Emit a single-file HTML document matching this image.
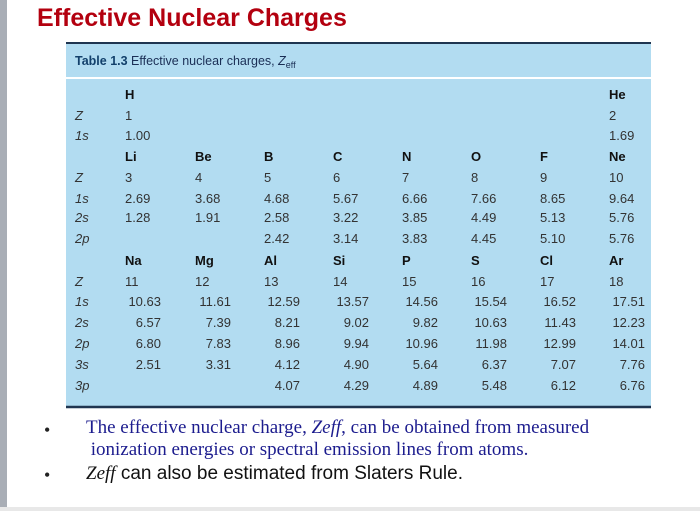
<!DOCTYPE html>
<html><head><meta charset="utf-8"><style>
body{margin:0;width:700px;height:511px;background:#fff;overflow:hidden;position:relative;font-family:"Liberation Sans",sans-serif}
</style></head><body>
<div style="position:absolute;left:0;top:0;width:7px;height:511px;background:#a9aeb6"></div>
<div style="position:absolute;left:0;top:507px;width:700px;height:4px;background:#e8e8e8"></div>
<div style="position:absolute;left:37px;top:4px;font-size:25px;font-weight:bold;color:#b3000f">Effective Nuclear Charges</div>
<svg style="position:absolute;left:0;top:0" width="700" height="511" font-family="Liberation Sans, sans-serif" font-size="13" fill="#333">
<rect x="66" y="43" width="585" height="34" fill="#b2dcf1"/>
<rect x="66" y="79" width="585" height="328" fill="#b2dcf1"/>
<line x1="66" y1="43" x2="651" y2="43" stroke="#1f3550" stroke-width="2"/>
<line x1="66" y1="407" x2="651" y2="407" stroke="#1f3550" stroke-width="2.5"/>
<text x="75" y="65" font-size="12.5" fill="#1a2e55"><tspan font-weight="bold" fill="#12406b">Table 1.3</tspan> Effective nuclear charges, <tspan font-style="italic">Z</tspan><tspan font-size="9" dy="3">eff</tspan></text>
<g id="cells"></g>
</svg>
<div style="position:absolute;left:44px;top:420px;font-size:18px;font-family:'Liberation Serif',serif;color:#222">•</div>
<div style="position:absolute;left:86px;top:417px;width:560px;font-size:19px;line-height:22px;font-family:'Liberation Serif',serif;color:#1c1c8e">The effective nuclear charge, <i>Zeff</i>, can be obtained from measured<br>&nbsp;ionization energies or spectral emission lines from atoms.</div>
<div style="position:absolute;left:44px;top:465px;font-size:18px;font-family:'Liberation Serif',serif;color:#222">•</div>
<div style="position:absolute;left:86px;top:463px;font-size:19px;color:#111"><i style="font-family:'Liberation Serif',serif">Zeff</i> can also be estimated from Slaters Rule.</div>
<script>
const rows = [
 {y:99, lab:"", b:1, v:["H","","","","","","","He"]},
 {y:120, lab:"Z", v:["1","","","","","","","2"]},
 {y:140, lab:"1s", v:["1.00","","","","","","","1.69"]},
 {y:161, lab:"", b:1, v:["Li","Be","B","C","N","O","F","Ne"]},
 {y:182, lab:"Z", v:["3","4","5","6","7","8","9","10"]},
 {y:203, lab:"1s", v:["2.69","3.68","4.68","5.67","6.66","7.66","8.65","9.64"]},
 {y:222, lab:"2s", v:["1.28","1.91","2.58","3.22","3.85","4.49","5.13","5.76"]},
 {y:243, lab:"2p", v:["","","2.42","3.14","3.83","4.45","5.10","5.76"]},
 {y:265, lab:"", b:1, v:["Na","Mg","Al","Si","P","S","Cl","Ar"]},
 {y:286, lab:"Z", v:["11","12","13","14","15","16","17","18"]},
 {y:306, lab:"1s", r:1, v:["10.63","11.61","12.59","13.57","14.56","15.54","16.52","17.51"]},
 {y:327, lab:"2s", r:1, v:["6.57","7.39","8.21","9.02","9.82","10.63","11.43","12.23"]},
 {y:348, lab:"2p", r:1, v:["6.80","7.83","8.96","9.94","10.96","11.98","12.99","14.01"]},
 {y:369, lab:"3s", r:1, v:["2.51","3.31","4.12","4.90","5.64","6.37","7.07","7.76"]},
 {y:390, lab:"3p", r:1, v:["","","4.07","4.29","4.89","5.48","6.12","6.76"]}
];
const cols=[125,195,264,333,402,471,540,609];
const g=document.getElementById('cells');
const NS="http://www.w3.org/2000/svg";
rows.forEach((r,i)=>{
  if(r.lab){
    const t=document.createElementNS(NS,'text');
    
    
    t.setAttribute('x',75);t.setAttribute('y',r.y);t.setAttribute('font-style','italic');
    t.textContent=r.lab;g.appendChild(t);
  }
  r.v.forEach((s,j)=>{
    if(!s)return;
    const t=document.createElementNS(NS,'text');
    
    
    if(r.r){t.setAttribute('x',cols[j]+36);t.setAttribute('text-anchor','end');}
    else t.setAttribute('x',cols[j]);
    t.setAttribute('y',r.y);
    if(r.b){t.setAttribute('font-weight','bold');t.setAttribute('fill','#111');}
    t.textContent=s;g.appendChild(t);
  });
});
</script>
</body></html>
